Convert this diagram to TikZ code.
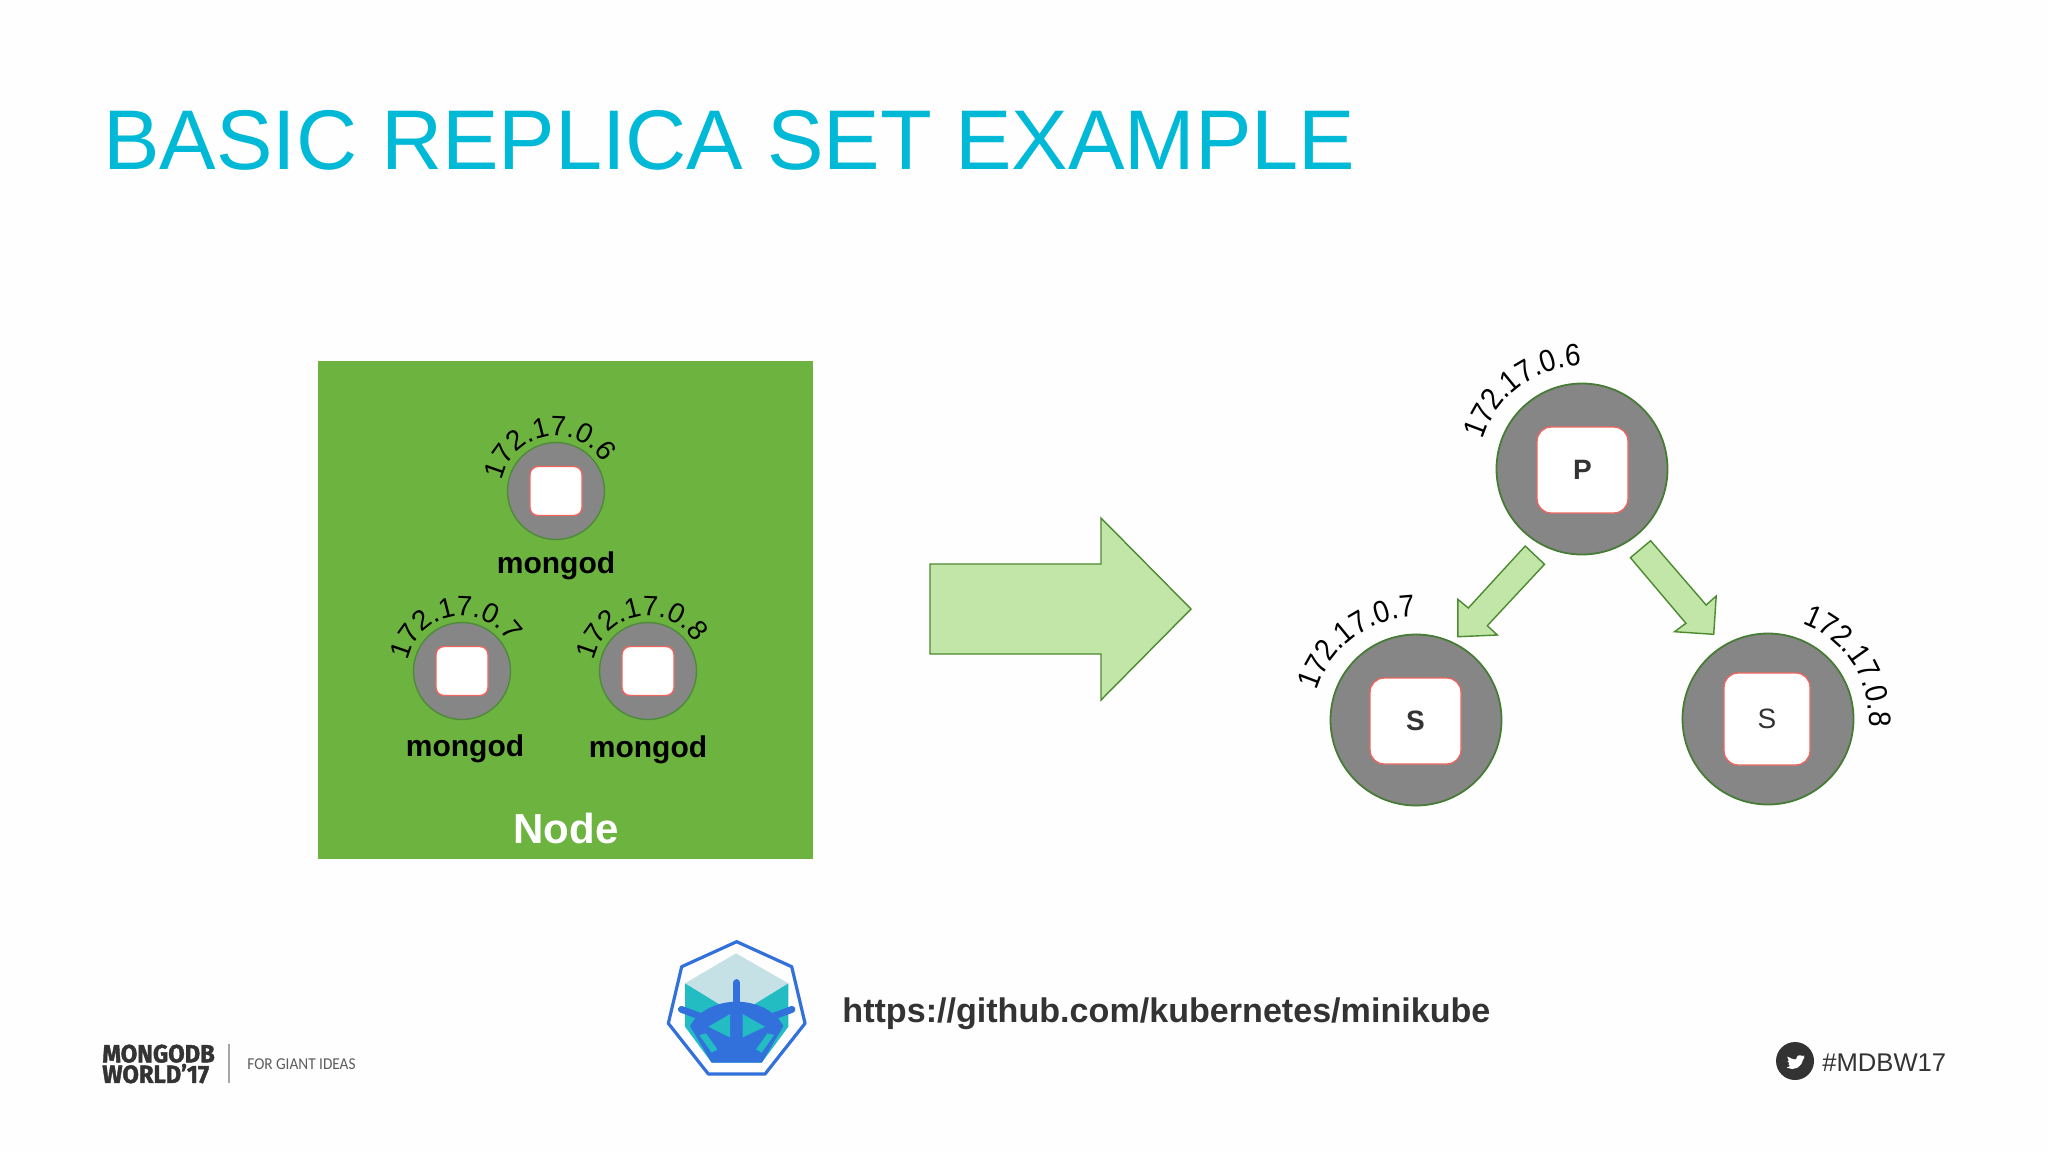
\documentclass[tikz,border=0pt]{standalone}
\usepackage{fontspec}
\setmainfont{Liberation Sans}
\newfontfamily\dinfont[BoldFeatures={FakeBold=1.6}]{Fira Sans}
\newfontfamily\lightfont{Carlito}
\newfontfamily\ipfont[FakeStretch=0.9]{Liberation Sans}
\usetikzlibrary{decorations.text,calc}
\definecolor{titlecyan}{HTML}{00B9D6}
\definecolor{nodegreen}{HTML}{6CB33F}
\definecolor{podgray}{HTML}{868686}
\definecolor{podedge}{HTML}{4F8A3C}
\definecolor{boxred}{HTML}{EE6660}
\definecolor{arrowfill}{HTML}{C2E5A8}
\definecolor{arrowedge}{HTML}{4C8A30}
\definecolor{darktext}{HTML}{333333}
\definecolor{logoblue}{HTML}{3270DC}
\definecolor{logoteal}{HTML}{22BCC2}
\definecolor{logolight}{HTML}{C6E1E6}
\newcommand{\fsz}[1]{\fontsize{#1}{#1}\selectfont}
\newcommand{\iparc}[6]{%
  \path[decorate,decoration={text along path,text={|#5|#6},text align=center}]
    ($(#1)+(-#2:#4)$) arc (-#2:-#3:#4);}
\tikzset{
  x=0.5pt,y=-0.5pt,
  smallpod/.style={circle,draw=podedge,line width=0.7pt,fill=podgray,minimum size=48.5pt,inner sep=0pt},
  bigpod/.style={circle,draw=podedge!90!black,line width=0.9pt,fill=podgray,minimum size=85.5pt,inner sep=0pt},
  smallbox/.style={rectangle,rounded corners=4pt,draw=boxred,line width=0.7pt,fill=white,minimum width=26pt,minimum height=24.5pt,inner sep=0pt},
  bigbox/.style={rectangle,rounded corners=7pt,draw=boxred,line width=0.7pt,fill=white,inner sep=0pt,font=\fsz{14}\color{darktext}},
  mongodlabel/.style={font=\fsz{15}\bfseries,text=black,inner sep=0pt},
  greenarrow/.style={draw=arrowedge,line width=0.7pt,fill=arrowfill,line join=miter},
  logostroke/.style={draw=logoblue,line join=round},
}
\begin{document}
\begin{tikzpicture}
\useasboundingbox (0,0) rectangle (2048,1152);
\fill[white!99.5!black] (0,0) rectangle (2048,1152);
% title
\node[anchor=west,inner sep=0pt,text=titlecyan,font=\fsz{42.35}] (title) at (103,140) {BASIC REPLICA SET EXAMPLE};
% green node
\node[anchor=north west,fill=nodegreen,minimum width=247.5pt,minimum height=249pt,inner sep=0pt] (nodebox) at (318,361) {};
\node[font=\fsz{21}\bfseries,text=white,inner sep=0pt] (nodelabel) at (566,828) {Node};
\node[smallpod] (a) at (556,491) {};
\node[smallpod] (b) at (462,671) {};
\node[smallpod] (c) at (648,671) {};
\node[smallbox] (ab) at (556,491) {};
\node[smallbox] (bb) at (462,671) {};
\node[smallbox] (cb) at (648,671) {};
\node[mongodlabel] (al) at (556,566) {mongod};
\node[mongodlabel] (bl) at (465,749) {mongod};
\node[mongodlabel] (cl) at (648,750) {mongod};
\iparc{a}{170}{30}{55}{\fsz{14}}{172.17.0.6}
\iparc{b}{170}{30}{55}{\fsz{14}}{172.17.0.7}
\iparc{c}{170}{30}{55}{\fsz{14}}{172.17.0.8}
% big arrow
\draw[greenarrow] (930,564) -- (1101,564) -- (1101,518) -- (1191,609) -- (1101,700) -- (1101,654) -- (930,654) -- cycle;
% replica set
\node[bigpod] (p) at (1582,469) {};
\node[bigpod] (s1) at (1416,720) {};
\node[bigpod] (s2) at (1768,719) {};
\node[bigbox,minimum width=45.5pt,minimum height=43pt] (pb) at (1582.5,470) {\bfseries P};
\node[bigbox,minimum width=45.5pt,minimum height=43pt] (s1b) at (1415.5,721) {\bfseries S};
\node[bigbox,minimum width=43pt,minimum height=46pt] (s2b) at (1767,719) {S};
\draw[greenarrow] (1525.2,546) -- (1544.5,564.3) -- (1487.3,625.7) -- (1497.4,635) -- (1457.8,636.7) -- (1457.8,599.3) -- (1468.3,608) -- cycle;
\draw[greenarrow] (1650.6,540.7) -- (1706.1,605) -- (1716.2,596) -- (1713.7,634.3) -- (1674.6,631.7) -- (1685.9,623.3) -- (1630.4,557.7) -- cycle;
\iparc{p}{177}{77}{103}{\ipfont\fsz{15.5}}{172.17.0.6}
\iparc{s1}{177}{77}{103}{\ipfont\fsz{15.5}}{172.17.0.7}
\iparc{s2}{83}{-17}{101}{\ipfont\fsz{15.5}}{172.17.0.8}
% logo
\begin{scope}[shift={(640,920)},x=0.1667pt,y=-0.1667pt]
\fill[logolight] (288,100) -- (445,190) -- (288,285) -- (135,190) -- cycle;
\fill[logoteal] (135,190) -- (290,285) -- (445,190) -- (445,320) -- (365,428) -- (215,428) -- (135,320) -- cycle;
\fill[logoblue] (150,318) .. controls (180,265) and (240,245) .. (290,245) .. controls (340,245) and (400,265) .. (430,318) -- (365,428) -- (215,428) -- cycle;
\fill[logoteal] (205,320) -- (270,282) -- (270,352) -- cycle;
\fill[logoteal] (308,282) -- (375,320) -- (308,352) -- cycle;
\fill[logoteal] (178,345) -- (198,340) -- (232,388) -- (215,398) -- cycle;
\fill[logoteal] (402,345) -- (382,340) -- (348,388) -- (365,398) -- cycle;
\draw[logoblue,line width=3.6pt,line cap=round] (290,188) -- (290,250);
\draw[logoblue,line width=3.4pt,line cap=round] (124,268) -- (210,300);
\draw[logoblue,line width=3.4pt,line cap=round] (456,268) -- (370,300);
\draw[logostroke,line width=1.6pt] (290,65) -- (455,140) -- (495,310) -- (375,462) -- (205,462) -- (85,310) -- (125,140) -- cycle;
\end{scope}
\node[anchor=west,inner sep=0pt,font=\fsz{17.05}\bfseries,text=darktext] (url) at (842,1014) {https://github.com/kubernetes/minikube};
% footer
\node[anchor=west,inner sep=0pt,align=left,xscale=0.95,font=\fsz{12.5}\dinfont\bfseries,text=darktext] (mw) at (102,1064) {MONGODB\\[-2.2pt]WORLD’17};
\coordinate (sep1) at (229,1044);
\coordinate (sep2) at (229,1083);
\draw[gray!70,line width=0.6pt] (sep1) -- (sep2);
\node[anchor=west,inner sep=0pt,xscale=0.92,font=\fsz{8.3}\lightfont,text=darktext!80] (giant) at (247,1064) {FOR GIANT IDEAS};
\node[circle,fill=darktext,minimum size=19pt,inner sep=0pt] (tw) at (1795,1061) {};
\begin{scope}[shift={(1795,1061)},x=0.1667pt,y=-0.1667pt]
\fill[white,rounded corners=0.4pt] (-24,-14) -- (-10,-7) -- (3,-4) -- (6,-14) -- (14,-18) -- (22,-15) -- (29,-17) -- (25,-10) -- (30,-11) -- (24,-5) -- (20,8) -- (8,20) -- (-8,24) -- (-26,20) -- (-14,15) -- (-21,9) -- (-16,7) -- (-24,0) -- (-18,0) -- cycle;
\end{scope}
\node[anchor=west,inner sep=0pt,font=\fsz{12.8},text=darktext] (tag) at (1822,1063) {\#MDBW17};
\end{tikzpicture}
\end{document}
